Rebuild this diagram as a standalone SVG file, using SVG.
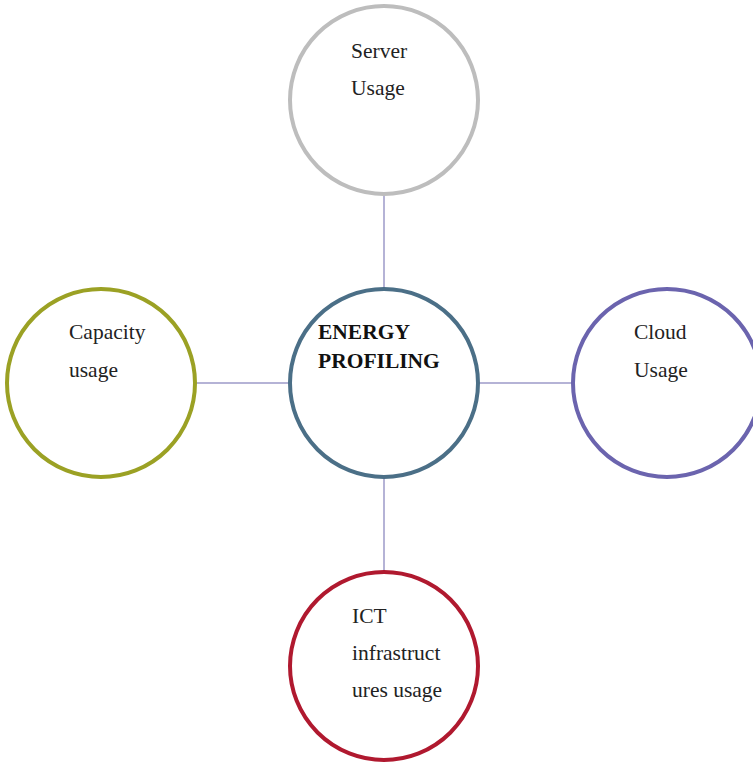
<svg xmlns="http://www.w3.org/2000/svg" width="753" height="763" viewBox="0 0 753 763">
  <style>
    .node { fill: #ffffff; stroke-width: 4; }
    .label { font-family: "Liberation Serif", "Times New Roman", serif; font-size: 21.5px; fill: #222222; }
    .bold { font-weight: bold; fill: #111111; }
    .link { stroke: #9d9ac9; stroke-width: 1.5; fill: none; }
  </style>
  <rect width="753" height="763" fill="#ffffff"/>

  <!-- connectors from the hub to each satellite -->
  <g id="connectors">
    <line class="link" x1="384" y1="195" x2="384" y2="288"/>
    <line class="link" x1="197" y1="383" x2="288" y2="383"/>
    <line class="link" x1="479" y1="383" x2="572" y2="383"/>
    <line class="link" x1="384" y1="479" x2="384" y2="571"/>
  </g>

  <g id="server-usage">
    <circle class="node" cx="384" cy="100" r="94" stroke="#bdbdbd"/>
    <text class="label" x="351" y="58">Server</text>
    <text class="label" x="351" y="95">Usage</text>
  </g>

  <g id="energy-profiling">
    <circle class="node" cx="384" cy="383" r="94" stroke="#4b6f87"/>
    <text class="label bold" x="318" y="339">ENERGY</text>
    <text class="label bold" x="318" y="368">PROFILING</text>
  </g>

  <g id="capacity-usage">
    <circle class="node" cx="101" cy="383" r="94" stroke="#9ba124"/>
    <text class="label" x="69" y="339">Capacity</text>
    <text class="label" x="69" y="377">usage</text>
  </g>

  <g id="cloud-usage">
    <circle class="node" cx="667" cy="383" r="94" stroke="#6b64ae"/>
    <text class="label" x="634" y="339">Cloud</text>
    <text class="label" x="634" y="377">Usage</text>
  </g>

  <g id="ict-usage">
    <circle class="node" cx="384" cy="666" r="94" stroke="#b0192f"/>
    <text class="label" x="352" y="623">ICT</text>
    <text class="label" x="352" y="660">infrastruct</text>
    <text class="label" x="352" y="697">ures usage</text>
  </g>
</svg>
